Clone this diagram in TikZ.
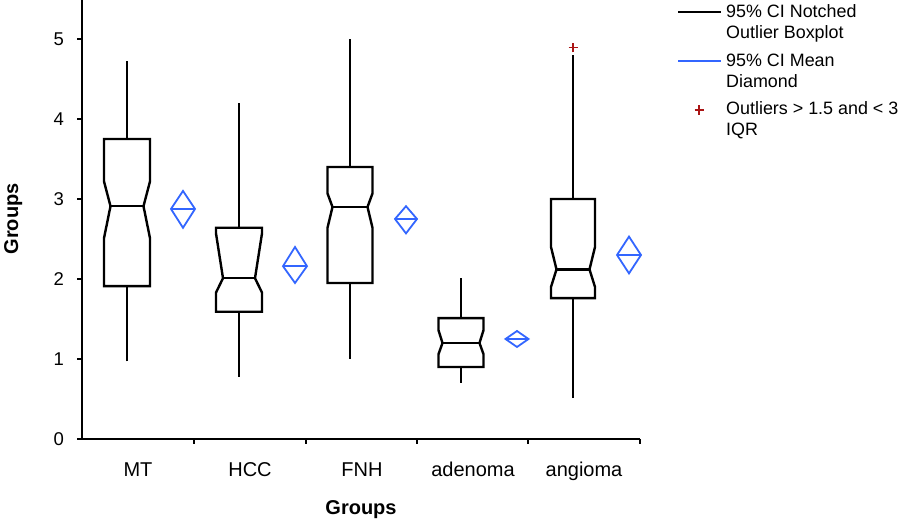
\documentclass[tikz,border=0pt]{standalone}
\usepackage{fontspec}
\setmainfont{Liberation Sans}
\definecolor{meanblue}{RGB}{51,102,255}
\definecolor{outlierred}{RGB}{170,20,20}

\begin{document}
\begin{tikzpicture}[x=1pt,y=80pt,
	boxline/.style={line width=2.4pt,black},
	meanline/.style={line width=1.8pt,meanblue},
	ticklabel/.style={font=\fontsize{18.5}{20}\selectfont,anchor=east,inner sep=0pt},
	grouplabel/.style={font=\fontsize{20}{24}\selectfont,anchor=base,inner sep=0pt},
	legendtext/.style={font=\fontsize{17.9}{21}\selectfont,anchor=base west,inner sep=0pt}]
	\useasboundingbox (0,-1.025) rectangle (900,5.4875);

	% axes
	\draw[line width=2.4pt] (82,5.4875) -- (82,0) -- (640,0);
	\draw[line width=2.4pt] (77,0) -- (82,0);
	\draw[line width=2.4pt] (77,1) -- (82,1);
	\draw[line width=2.4pt] (77,2) -- (82,2);
	\draw[line width=2.4pt] (77,3) -- (82,3);
	\draw[line width=2.4pt] (77,4) -- (82,4);
	\draw[line width=2.4pt] (77,5) -- (82,5);
	\draw[line width=2.4pt] (194,0) -- (194,-0.06);
	\draw[line width=2.4pt] (306,0) -- (306,-0.06);
	\draw[line width=2.4pt] (417,0) -- (417,-0.06);
	\draw[line width=2.4pt] (528,0) -- (528,-0.06);
	\draw[line width=2.4pt] (640,0) -- (640,-0.06);

	\node[ticklabel] (y0) at (64,0) {0};
	\node[ticklabel] (y1) at (64,1) {1};
	\node[ticklabel] (y2) at (64,2) {2};
	\node[ticklabel] (y3) at (64,3) {3};
	\node[ticklabel] (y4) at (64,4) {4};
	\node[ticklabel] (y5) at (64,5) {5};

	\node[grouplabel] (mt) at (138,-0.475) {MT};
	\node[grouplabel] (hcc) at (250,-0.475) {HCC};
	\node[grouplabel] (fnh) at (362,-0.475) {FNH};
	\node[grouplabel] (adenoma) at (473,-0.475) {adenoma};
	\node[grouplabel] (angioma) at (584,-0.475) {angioma};

	\node[grouplabel,font=\fontsize{20}{24}\selectfont\bfseries] (xtitle) at (361,-0.95) {Groups};
	\node[grouplabel,font=\fontsize{20}{24}\selectfont\bfseries,rotate=90] (ytitle) at (18,2.75) {Groups};

	% MT
	\draw[boxline] (127,0.97) -- (127,1.91);
	\draw[boxline] (127,3.75) -- (127,4.72);
	\draw[boxline] (104,3.75) -- (150,3.75) -- (150,3.22) -- (143.5,2.91) -- (150,2.51) -- (150,1.91)
		-- (104,1.91) -- (104,2.51) -- (110.5,2.91) -- (104,3.22) -- cycle;
	\draw[boxline] (110.5,2.91) -- (143.5,2.91);

	% HCC
	\draw[boxline] (239,0.78) -- (239,1.59);
	\draw[boxline] (239,2.64) -- (239,4.2);
	\draw[boxline] (216,2.64) -- (262,2.64) -- (262,2.57) -- (255,2.01) -- (262,1.83) -- (262,1.59)
		-- (216,1.59) -- (216,1.83) -- (223,2.01) -- (216,2.57) -- cycle;
	\draw[boxline] (223,2.01) -- (255,2.01);

	% FNH
	\draw[boxline] (350,1.0) -- (350,1.95);
	\draw[boxline] (350,3.4) -- (350,5.0);
	\draw[boxline] (327.5,3.4) -- (372.5,3.4) -- (372.5,3.07) -- (367.5,2.9) -- (372.5,2.64) -- (372.5,1.95)
		-- (327.5,1.95) -- (327.5,2.64) -- (332.5,2.9) -- (327.5,3.07) -- cycle;
	\draw[boxline] (332.5,2.9) -- (367.5,2.9);

	% adenoma
	\draw[boxline] (461,0.7) -- (461,0.9);
	\draw[boxline] (461,1.51) -- (461,2.01);
	\draw[boxline] (438.5,1.51) -- (483.5,1.51) -- (483.5,1.36) -- (479.5,1.2) -- (483.5,1.06) -- (483.5,0.9)
		-- (438.5,0.9) -- (438.5,1.06) -- (442.5,1.2) -- (438.5,1.36) -- cycle;
	\draw[boxline] (442.5,1.2) -- (479.5,1.2);

	% angioma
	\draw[boxline] (573,0.51) -- (573,1.76);
	\draw[boxline] (573,3.0) -- (573,4.8);
	\draw[boxline] (551,3.0) -- (595,3.0) -- (595,2.4) -- (589.5,2.12) -- (595,1.9) -- (595,1.76)
		-- (551,1.76) -- (551,1.9) -- (556.5,2.12) -- (551,2.4) -- cycle;
	\draw[boxline] (556.5,2.12) -- (589.5,2.12);
	\draw[outlierred,line width=1.3pt] (568.5,4.89) -- (577.5,4.89) (573,4.834) -- (573,4.946);

	% mean diamonds
	\draw[meanline] (171,2.875) -- (183,3.1) -- (195,2.875) -- (183,2.64) -- cycle;
	\draw[meanline] (171,2.875) -- (195,2.875);
	\draw[meanline] (283,2.16) -- (295,2.4) -- (307,2.16) -- (295,1.95) -- cycle;
	\draw[meanline] (283,2.16) -- (307,2.16);
	\draw[meanline] (395,2.75) -- (406,2.91) -- (417,2.75) -- (406,2.57) -- cycle;
	\draw[meanline] (395,2.75) -- (417,2.75);
	\draw[meanline] (505.5,1.25) -- (517,1.35) -- (528.5,1.25) -- (517,1.15) -- cycle;
	\draw[meanline] (505.5,1.25) -- (528.5,1.25);
	\draw[meanline] (617,2.3) -- (629,2.53) -- (641,2.3) -- (629,2.07) -- cycle;
	\draw[meanline] (617,2.3) -- (641,2.3);

	% legend
	\draw[line width=1.8pt,black] (678,5.3375) -- (721,5.3375);
	\draw[meanline] (678,4.725) -- (721,4.725);
	\draw[outlierred,line width=1.3pt] (694.5,4.1125) -- (703.5,4.1125) (699,4.056) -- (699,4.169);

	\node[legendtext] (leg1a) at (726,5.2625) {95\% CI Notched};
	\node[legendtext] (leg1b) at (726,5.0) {Outlier Boxplot};
	\node[legendtext] (leg2a) at (726,4.65) {95\% CI Mean};
	\node[legendtext] (leg2b) at (726,4.3875) {Diamond};
	\node[legendtext] (leg3a) at (726,4.05) {Outliers > 1.5 and < 3};
	\node[legendtext] (leg3b) at (726,3.7875) {IQR};
\end{tikzpicture}
\end{document}
